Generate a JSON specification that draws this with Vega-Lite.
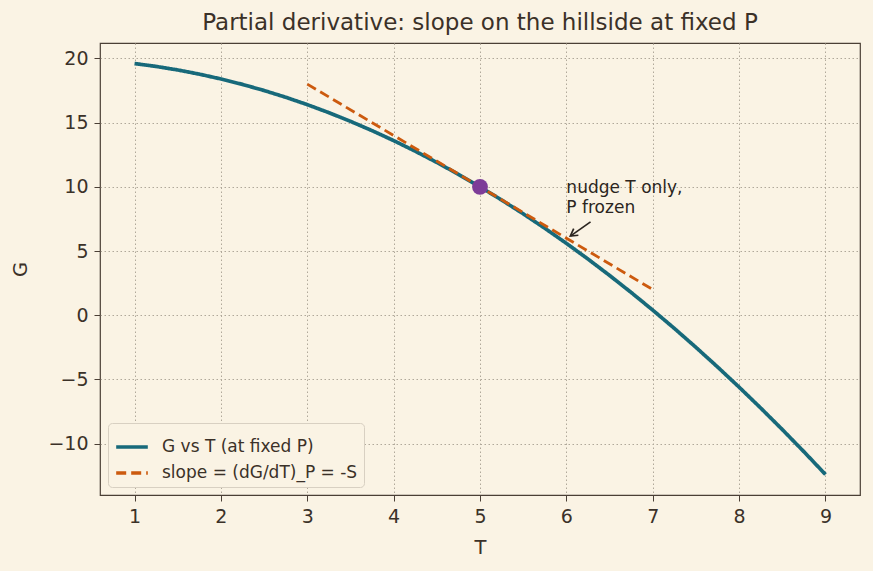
{
  "$schema": "https://vega.github.io/schema/vega-lite/v6.json",
  "width": 760,
  "height": 452,
  "autosize": "none",
  "padding": {"left": 100, "top": 43, "right": 13, "bottom": 76},
  "background": "#faf3e4",
  "title": {"text": "Partial derivative: slope on the hillside at fixed P", "fontSize": 23, "font": "DejaVu Sans", "fontWeight": "normal", "color": "#3b3128", "offset": 8},
  "config": {
    "font": "DejaVu Sans",
    "view": {"stroke": "#4a3f35", "strokeWidth": 1.2, "fill": "#faf3e4"},
    "axis": {
      "grid": true, "gridColor": "#b0a89a", "gridDash": [1.5, 2.5], "gridWidth": 1,
      "domain": false, "tickColor": "#4a3f35", "tickSize": 6,
      "labelFontSize": 19, "labelColor": "#3b3128", "labelPadding": 6, "titleFontSize": 19.5, "titleColor": "#3b3128", "titleFontWeight": "normal"
    }
  },
  "datasets": {
    "curve": [
      {"T": 1, "G": 19.6}, {"T": 1.25, "G": 19.375}, {"T": 1.5, "G": 19.1}, {"T": 1.75, "G": 18.775},
      {"T": 2, "G": 18.4}, {"T": 2.25, "G": 17.975}, {"T": 2.5, "G": 17.5}, {"T": 2.75, "G": 16.975},
      {"T": 3, "G": 16.4}, {"T": 3.25, "G": 15.775}, {"T": 3.5, "G": 15.1}, {"T": 3.75, "G": 14.375},
      {"T": 4, "G": 13.6}, {"T": 4.25, "G": 12.775}, {"T": 4.5, "G": 11.9}, {"T": 4.75, "G": 10.975},
      {"T": 5, "G": 10}, {"T": 5.25, "G": 8.975}, {"T": 5.5, "G": 7.9}, {"T": 5.75, "G": 6.775},
      {"T": 6, "G": 5.6}, {"T": 6.25, "G": 4.375}, {"T": 6.5, "G": 3.1}, {"T": 6.75, "G": 1.775},
      {"T": 7, "G": 0.4}, {"T": 7.25, "G": -1.025}, {"T": 7.5, "G": -2.5}, {"T": 7.75, "G": -4.025},
      {"T": 8, "G": -5.6}, {"T": 8.25, "G": -7.225}, {"T": 8.5, "G": -8.9}, {"T": 8.75, "G": -10.625},
      {"T": 9, "G": -12.4}
    ],
    "tangent": [{"T": 3, "G": 18}, {"T": 7, "G": 2}],
    "arrowShaft": [{"T": 6.28, "G": 7.27}, {"T": 6.05, "G": 6.18}],
    "arrowHead": [{"T": 6.139, "G": 6.227, "o": 1}, {"T": 6.046, "G": 6.172, "o": 2}, {"T": 6.085, "G": 6.738, "o": 3}]
  },
  "layer": [
    {
      "data": {"name": "curve"},
      "transform": [{"calculate": "'G vs T (at fixed P)'", "as": "series"}],
      "mark": {"type": "line", "strokeWidth": 3.7, "strokeCap": "butt"},
      "encoding": {
        "x": {"field": "T", "type": "quantitative", "scale": {"domain": [0.6, 9.4], "nice": false, "zero": false}, "axis": {"values": [1,2,3,4,5,6,7,8,9], "format": "d", "title": "T", "titlePadding": 12}},
        "y": {"field": "G", "type": "quantitative", "scale": {"domain": [-14, 21.2], "nice": false, "zero": false}, "axis": {"values": [-10,-5,0,5,10,15,20], "title": "G", "titlePadding": 17, "labelExpr": "replace(datum.label, '-', '−')"}},
        "color": {"field": "series", "type": "nominal", "scale": {"domain": ["G vs T (at fixed P)", "slope = (dG/dT)_P = -S"], "range": ["#17697a", "#cc5a0e"]},
          "legend": {"orient": "bottom-left", "title": null, "labelFontSize": 17, "labelLimit": 400, "labelColor": "#3b3128", "symbolType": "stroke", "symbolSize": 1000, "symbolStrokeWidth": 3.5, "fillColor": "#faf3e4", "strokeColor": "#d8d0c2", "padding": 6, "cornerRadius": 4, "offset": 8, "rowPadding": 0, "labelOffset": 12}},
        "strokeDash": {"field": "series", "type": "nominal", "scale": {"domain": ["G vs T (at fixed P)", "slope = (dG/dT)_P = -S"], "range": [[1, 0], [10, 5]]}, "legend": null}
      }
    },
    {
      "data": {"name": "tangent"},
      "transform": [{"calculate": "'slope = (dG/dT)_P = -S'", "as": "series"}],
      "mark": {"type": "line", "strokeWidth": 2.8, "strokeCap": "butt"},
      "encoding": {
        "x": {"field": "T", "type": "quantitative"},
        "y": {"field": "G", "type": "quantitative"},
        "color": {"field": "series", "type": "nominal"},
        "strokeDash": {"field": "series", "type": "nominal"}
      }
    },
    {
      "data": {"values": [{"T": 5, "G": 10}]},
      "mark": {"type": "point", "filled": true, "size": 250, "color": "#7d3c98", "opacity": 1},
      "encoding": {"x": {"field": "T", "type": "quantitative"}, "y": {"field": "G", "type": "quantitative"}}
    },
    {
      "data": {"name": "arrowShaft"},
      "mark": {"type": "line", "color": "#2b2520", "strokeWidth": 1.7},
      "encoding": {"x": {"field": "T", "type": "quantitative"}, "y": {"field": "G", "type": "quantitative"}}
    },
    {
      "data": {"name": "arrowHead"},
      "mark": {"type": "line", "color": "#2b2520", "strokeWidth": 1.7},
      "encoding": {"x": {"field": "T", "type": "quantitative"}, "y": {"field": "G", "type": "quantitative"}, "order": {"field": "o"}}
    },
    {
      "data": {"values": [{"T": 6, "G": 9.555, "label": "nudge T only,\nP frozen"}]},
      "mark": {"type": "text", "align": "left", "baseline": "alphabetic", "fontSize": 17, "color": "#2b2520", "lineBreak": "\n", "lineHeight": 20},
      "encoding": {"x": {"field": "T", "type": "quantitative"}, "y": {"field": "G", "type": "quantitative"}, "text": {"field": "label"}}
    }
  ]
}
